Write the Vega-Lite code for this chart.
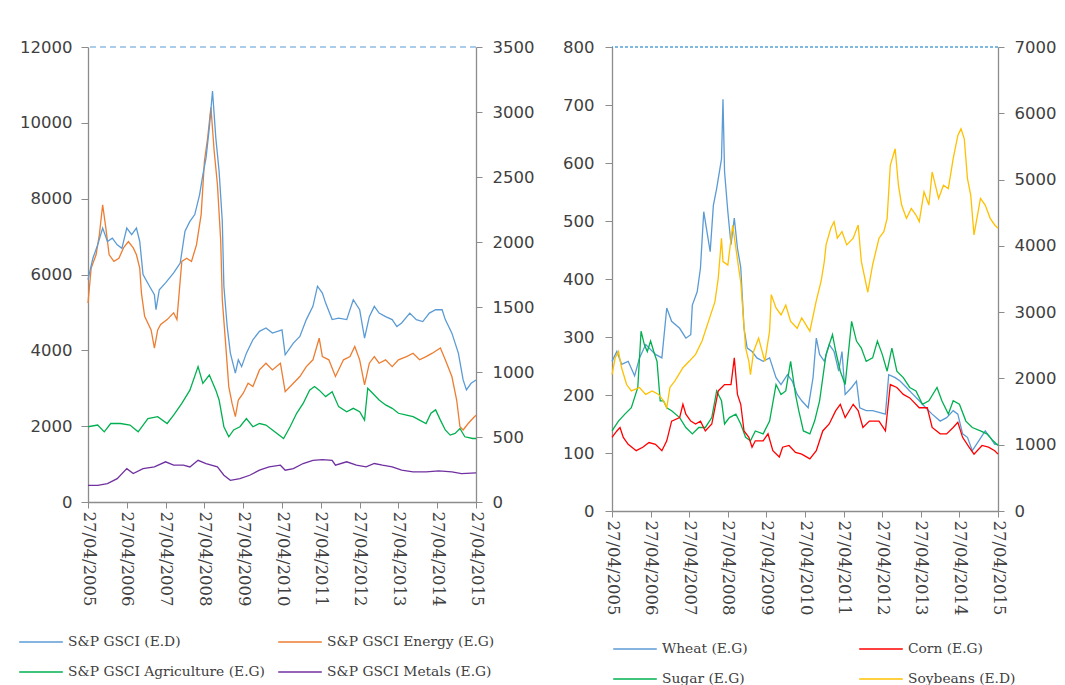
{
"$schema":"https://vega.github.io/schema/vega-lite/v6.json",
"background":"white",
"padding":{"left":18,"top":39,"right":5,"bottom":5},
"spacing":28,
"config":{"view":{"stroke":null},"axis":{"domainColor":"#8c8c8c","tickColor":"#8c8c8c","labelColor":"#404040","grid":false,"title":null,"labelFont":"DejaVu Sans","labelFontSize":16.5,"tickSize":6,"domainWidth":1.3,"labelOverlap":false,"format":"d"},"axisX":{"labelOverlap":false,"tickCount":20}},
"datasets":{
"gsci":[{"d":"2005-04-27","v":1711},{"d":"2005-06-12","v":1875},{"d":"2005-07-27","v":1978},{"d":"2005-09-12","v":2107},{"d":"2005-10-27","v":2004},{"d":"2005-12-12","v":2030},{"d":"2006-01-27","v":1978},{"d":"2006-03-12","v":1951},{"d":"2006-04-27","v":2107},{"d":"2006-06-12","v":2056},{"d":"2006-07-27","v":2107},{"d":"2006-08-27","v":2004},{"d":"2006-09-27","v":1750},{"d":"2006-11-27","v":1660},{"d":"2007-01-12","v":1595},{"d":"2007-01-27","v":1479},{"d":"2007-02-27","v":1633},{"d":"2007-04-27","v":1686},{"d":"2007-07-12","v":1762},{"d":"2007-09-12","v":1838},{"d":"2007-10-27","v":2083},{"d":"2007-12-12","v":2158},{"d":"2008-01-27","v":2211},{"d":"2008-03-12","v":2363},{"d":"2008-04-12","v":2517},{"d":"2008-05-12","v":2647},{"d":"2008-06-12","v":2879},{"d":"2008-07-12","v":3162},{"d":"2008-08-12","v":2801},{"d":"2008-09-12","v":2544},{"d":"2008-10-12","v":2159},{"d":"2008-10-27","v":1660},{"d":"2008-11-27","v":1350},{"d":"2008-12-27","v":1145},{"d":"2009-02-12","v":992},{"d":"2009-03-12","v":1094},{"d":"2009-04-12","v":1041},{"d":"2009-05-27","v":1145},{"d":"2009-07-27","v":1248},{"d":"2009-09-27","v":1313},{"d":"2009-11-27","v":1339},{"d":"2010-01-27","v":1299},{"d":"2010-04-27","v":1324},{"d":"2010-05-27","v":1132},{"d":"2010-08-12","v":1222},{"d":"2010-10-12","v":1273},{"d":"2010-12-12","v":1403},{"d":"2011-02-12","v":1505},{"d":"2011-03-27","v":1660},{"d":"2011-05-12","v":1607},{"d":"2011-06-12","v":1530},{"d":"2011-08-12","v":1403},{"d":"2011-10-12","v":1415},{"d":"2011-12-27","v":1403},{"d":"2012-02-27","v":1556},{"d":"2012-04-27","v":1479},{"d":"2012-06-12","v":1260},{"d":"2012-07-27","v":1426},{"d":"2012-09-12","v":1505},{"d":"2012-10-27","v":1453},{"d":"2012-12-27","v":1426},{"d":"2013-02-27","v":1403},{"d":"2013-04-12","v":1350},{"d":"2013-05-27","v":1377},{"d":"2013-08-12","v":1453},{"d":"2013-10-12","v":1403},{"d":"2013-12-12","v":1388},{"d":"2014-02-12","v":1453},{"d":"2014-04-12","v":1479},{"d":"2014-06-12","v":1479},{"d":"2014-07-12","v":1403},{"d":"2014-09-12","v":1299},{"d":"2014-11-12","v":1145},{"d":"2014-12-27","v":939},{"d":"2015-01-27","v":862},{"d":"2015-03-12","v":913},{"d":"2015-04-27","v":939}],
"energy":[{"d":"2005-04-27","v":5250},{"d":"2005-05-27","v":6170},{"d":"2005-07-12","v":6520},{"d":"2005-08-12","v":7050},{"d":"2005-09-12","v":7840},{"d":"2005-10-12","v":7225},{"d":"2005-11-12","v":6520},{"d":"2005-12-27","v":6345},{"d":"2006-02-12","v":6430},{"d":"2006-03-27","v":6700},{"d":"2006-05-12","v":6870},{"d":"2006-06-27","v":6700},{"d":"2006-07-27","v":6520},{"d":"2006-08-27","v":6170},{"d":"2006-09-12","v":5510},{"d":"2006-10-12","v":4895},{"d":"2006-12-12","v":4540},{"d":"2007-01-12","v":4060},{"d":"2007-02-12","v":4540},{"d":"2007-03-12","v":4680},{"d":"2007-05-12","v":4810},{"d":"2007-07-12","v":4990},{"d":"2007-08-12","v":4810},{"d":"2007-09-27","v":6345},{"d":"2007-11-12","v":6430},{"d":"2007-12-27","v":6345},{"d":"2008-02-12","v":6780},{"d":"2008-03-27","v":7580},{"d":"2008-04-27","v":8990},{"d":"2008-05-27","v":9600},{"d":"2008-06-27","v":10410},{"d":"2008-07-27","v":9270},{"d":"2008-08-27","v":8380},{"d":"2008-09-27","v":6900},{"d":"2008-10-12","v":5335},{"d":"2008-11-12","v":4190},{"d":"2008-12-12","v":3045},{"d":"2009-01-12","v":2600},{"d":"2009-02-12","v":2250},{"d":"2009-03-12","v":2690},{"d":"2009-04-27","v":2870},{"d":"2009-06-12","v":3130},{"d":"2009-07-27","v":3045},{"d":"2009-09-27","v":3484},{"d":"2009-11-27","v":3660},{"d":"2010-01-27","v":3484},{"d":"2010-04-12","v":3660},{"d":"2010-05-27","v":2910},{"d":"2010-08-12","v":3130},{"d":"2010-10-12","v":3310},{"d":"2010-12-12","v":3570},{"d":"2011-02-12","v":3750},{"d":"2011-04-12","v":4320},{"d":"2011-05-12","v":3835},{"d":"2011-07-12","v":3750},{"d":"2011-09-12","v":3310},{"d":"2011-11-27","v":3750},{"d":"2012-01-27","v":3835},{"d":"2012-03-12","v":4100},{"d":"2012-04-27","v":3750},{"d":"2012-06-12","v":3090},{"d":"2012-07-27","v":3660},{"d":"2012-09-12","v":3835},{"d":"2012-10-27","v":3660},{"d":"2012-12-27","v":3750},{"d":"2013-02-27","v":3570},{"d":"2013-04-27","v":3750},{"d":"2013-07-12","v":3835},{"d":"2013-09-12","v":3925},{"d":"2013-11-12","v":3750},{"d":"2014-01-12","v":3835},{"d":"2014-03-12","v":3925},{"d":"2014-05-27","v":4060},{"d":"2014-07-12","v":3750},{"d":"2014-09-12","v":3310},{"d":"2014-10-27","v":2690},{"d":"2014-11-27","v":1985},{"d":"2014-12-27","v":1900},{"d":"2015-02-12","v":2070},{"d":"2015-04-12","v":2250},{"d":"2015-04-27","v":2290}],
"agri":[{"d":"2005-04-27","v":1985},{"d":"2005-07-27","v":2030},{"d":"2005-09-27","v":1850},{"d":"2005-11-27","v":2070},{"d":"2006-02-27","v":2070},{"d":"2006-05-27","v":2030},{"d":"2006-08-12","v":1850},{"d":"2006-11-12","v":2200},{"d":"2007-02-12","v":2250},{"d":"2007-05-12","v":2070},{"d":"2007-07-12","v":2290},{"d":"2007-09-27","v":2600},{"d":"2007-12-12","v":2950},{"d":"2008-02-27","v":3570},{"d":"2008-04-12","v":3130},{"d":"2008-06-12","v":3350},{"d":"2008-08-12","v":2950},{"d":"2008-09-12","v":2690},{"d":"2008-10-27","v":1985},{"d":"2008-12-12","v":1720},{"d":"2009-01-27","v":1900},{"d":"2009-03-27","v":1985},{"d":"2009-05-27","v":2200},{"d":"2009-07-27","v":1985},{"d":"2009-09-27","v":2070},{"d":"2009-11-27","v":2030},{"d":"2010-01-27","v":1900},{"d":"2010-05-12","v":1675},{"d":"2010-07-12","v":1985},{"d":"2010-09-12","v":2340},{"d":"2010-11-12","v":2600},{"d":"2011-01-12","v":2950},{"d":"2011-02-27","v":3045},{"d":"2011-04-12","v":2950},{"d":"2011-06-12","v":2780},{"d":"2011-08-12","v":2910},{"d":"2011-10-12","v":2515},{"d":"2011-12-27","v":2380},{"d":"2012-02-27","v":2470},{"d":"2012-04-27","v":2380},{"d":"2012-06-12","v":2160},{"d":"2012-07-12","v":3000},{"d":"2012-08-27","v":2870},{"d":"2012-10-27","v":2690},{"d":"2012-12-27","v":2560},{"d":"2013-02-27","v":2470},{"d":"2013-04-27","v":2340},{"d":"2013-07-12","v":2290},{"d":"2013-09-12","v":2250},{"d":"2013-11-12","v":2160},{"d":"2014-01-12","v":2070},{"d":"2014-02-27","v":2340},{"d":"2014-04-12","v":2430},{"d":"2014-05-27","v":2160},{"d":"2014-07-12","v":1900},{"d":"2014-08-27","v":1765},{"d":"2014-10-12","v":1810},{"d":"2014-11-27","v":1940},{"d":"2015-01-12","v":1720},{"d":"2015-03-27","v":1675},{"d":"2015-04-27","v":1675}],
"metals":[{"d":"2005-04-27","v":440},{"d":"2005-07-27","v":440},{"d":"2005-10-27","v":485},{"d":"2006-01-27","v":617},{"d":"2006-04-27","v":880},{"d":"2006-06-27","v":750},{"d":"2006-09-27","v":880},{"d":"2007-01-12","v":925},{"d":"2007-04-27","v":1060},{"d":"2007-07-12","v":970},{"d":"2007-10-12","v":970},{"d":"2007-12-12","v":925},{"d":"2008-02-27","v":1100},{"d":"2008-05-12","v":1015},{"d":"2008-08-27","v":925},{"d":"2008-10-27","v":705},{"d":"2008-12-27","v":573},{"d":"2009-03-27","v":617},{"d":"2009-06-27","v":705},{"d":"2009-09-27","v":840},{"d":"2009-12-27","v":925},{"d":"2010-04-12","v":970},{"d":"2010-05-27","v":838},{"d":"2010-08-12","v":880},{"d":"2010-11-12","v":1015},{"d":"2011-02-12","v":1100},{"d":"2011-05-12","v":1120},{"d":"2011-08-12","v":1100},{"d":"2011-09-12","v":970},{"d":"2011-12-27","v":1060},{"d":"2012-03-27","v":970},{"d":"2012-06-27","v":925},{"d":"2012-09-12","v":1015},{"d":"2012-11-27","v":970},{"d":"2013-02-27","v":925},{"d":"2013-05-27","v":838},{"d":"2013-09-12","v":794},{"d":"2014-01-12","v":794},{"d":"2014-05-12","v":820},{"d":"2014-09-12","v":794},{"d":"2014-12-12","v":750},{"d":"2015-04-27","v":770}],
"wheat":[{"d":"2005-04-27","v":258},{"d":"2005-06-12","v":275},{"d":"2005-07-27","v":253},{"d":"2005-09-27","v":258},{"d":"2005-11-27","v":233},{"d":"2006-01-12","v":264},{"d":"2006-03-12","v":287},{"d":"2006-06-12","v":270},{"d":"2006-08-12","v":264},{"d":"2006-09-27","v":350},{"d":"2006-11-12","v":327},{"d":"2007-01-27","v":315},{"d":"2007-03-27","v":298},{"d":"2007-05-12","v":304},{"d":"2007-05-27","v":355},{"d":"2007-07-12","v":378},{"d":"2007-08-12","v":419},{"d":"2007-09-12","v":516},{"d":"2007-10-12","v":482},{"d":"2007-11-12","v":447},{"d":"2007-12-12","v":527},{"d":"2008-01-12","v":556},{"d":"2008-02-27","v":607},{"d":"2008-03-12","v":710},{"d":"2008-03-27","v":585},{"d":"2008-04-27","v":516},{"d":"2008-05-27","v":459},{"d":"2008-06-27","v":505},{"d":"2008-07-27","v":453},{"d":"2008-08-27","v":420},{"d":"2008-09-27","v":315},{"d":"2008-10-27","v":281},{"d":"2008-12-12","v":275},{"d":"2009-01-27","v":264},{"d":"2009-03-27","v":258},{"d":"2009-05-27","v":264},{"d":"2009-07-27","v":230},{"d":"2009-09-12","v":218},{"d":"2009-11-12","v":235},{"d":"2009-12-27","v":224},{"d":"2010-02-12","v":201},{"d":"2010-03-27","v":190},{"d":"2010-05-27","v":178},{"d":"2010-07-12","v":230},{"d":"2010-08-12","v":298},{"d":"2010-09-12","v":270},{"d":"2010-10-27","v":258},{"d":"2010-12-12","v":287},{"d":"2011-01-27","v":275},{"d":"2011-03-12","v":241},{"d":"2011-04-12","v":275},{"d":"2011-05-12","v":201},{"d":"2011-07-12","v":213},{"d":"2011-08-27","v":224},{"d":"2011-09-27","v":178},{"d":"2011-11-27","v":173},{"d":"2012-01-27","v":173},{"d":"2012-03-27","v":170},{"d":"2012-05-27","v":167},{"d":"2012-06-27","v":235},{"d":"2012-08-27","v":230},{"d":"2012-10-12","v":224},{"d":"2012-12-12","v":213},{"d":"2013-02-12","v":201},{"d":"2013-04-12","v":190},{"d":"2013-06-12","v":178},{"d":"2013-08-12","v":167},{"d":"2013-10-27","v":155},{"d":"2013-12-27","v":161},{"d":"2014-02-27","v":173},{"d":"2014-04-12","v":167},{"d":"2014-05-27","v":133},{"d":"2014-07-12","v":127},{"d":"2014-08-27","v":104},{"d":"2014-10-27","v":121},{"d":"2014-12-27","v":138},{"d":"2015-02-12","v":127},{"d":"2015-03-27","v":115},{"d":"2015-04-27","v":115}],
"corn":[{"d":"2005-04-27","v":127},{"d":"2005-06-12","v":138},{"d":"2005-07-12","v":144},{"d":"2005-08-12","v":127},{"d":"2005-09-27","v":115},{"d":"2005-12-12","v":104},{"d":"2006-02-12","v":110},{"d":"2006-04-12","v":118},{"d":"2006-06-12","v":115},{"d":"2006-08-12","v":104},{"d":"2006-09-27","v":121},{"d":"2006-11-12","v":155},{"d":"2007-01-27","v":161},{"d":"2007-02-27","v":184},{"d":"2007-03-27","v":167},{"d":"2007-05-12","v":155},{"d":"2007-06-27","v":150},{"d":"2007-08-12","v":155},{"d":"2007-09-27","v":138},{"d":"2007-11-27","v":150},{"d":"2007-12-27","v":178},{"d":"2008-01-27","v":207},{"d":"2008-03-27","v":218},{"d":"2008-05-27","v":218},{"d":"2008-06-27","v":264},{"d":"2008-07-27","v":201},{"d":"2008-08-27","v":184},{"d":"2008-09-27","v":138},{"d":"2008-11-12","v":127},{"d":"2008-12-12","v":110},{"d":"2009-01-12","v":121},{"d":"2009-03-27","v":121},{"d":"2009-05-12","v":133},{"d":"2009-06-27","v":104},{"d":"2009-08-27","v":93},{"d":"2009-09-27","v":110},{"d":"2009-11-27","v":113},{"d":"2010-01-27","v":101},{"d":"2010-03-27","v":98},{"d":"2010-06-12","v":90},{"d":"2010-08-12","v":104},{"d":"2010-10-12","v":138},{"d":"2010-12-12","v":150},{"d":"2011-02-12","v":173},{"d":"2011-03-27","v":184},{"d":"2011-05-12","v":161},{"d":"2011-07-27","v":184},{"d":"2011-09-12","v":173},{"d":"2011-10-27","v":144},{"d":"2011-12-27","v":155},{"d":"2012-03-27","v":155},{"d":"2012-05-27","v":138},{"d":"2012-07-12","v":218},{"d":"2012-09-12","v":213},{"d":"2012-11-12","v":201},{"d":"2013-01-12","v":195},{"d":"2013-04-12","v":178},{"d":"2013-06-27","v":178},{"d":"2013-08-12","v":144},{"d":"2013-10-27","v":133},{"d":"2013-12-27","v":133},{"d":"2014-02-27","v":144},{"d":"2014-04-12","v":153},{"d":"2014-05-27","v":127},{"d":"2014-07-27","v":110},{"d":"2014-09-12","v":98},{"d":"2014-11-27","v":113},{"d":"2015-01-27","v":110},{"d":"2015-03-27","v":104},{"d":"2015-04-27","v":98}],
"sugar":[{"d":"2005-04-27","v":138},{"d":"2005-06-27","v":155},{"d":"2005-08-27","v":167},{"d":"2005-10-27","v":178},{"d":"2005-12-27","v":213},{"d":"2006-01-27","v":310},{"d":"2006-02-27","v":287},{"d":"2006-03-27","v":275},{"d":"2006-04-27","v":293},{"d":"2006-05-27","v":275},{"d":"2006-06-27","v":258},{"d":"2006-07-27","v":190},{"d":"2006-08-27","v":190},{"d":"2006-09-27","v":178},{"d":"2006-11-12","v":173},{"d":"2007-01-27","v":161},{"d":"2007-03-27","v":144},{"d":"2007-05-27","v":133},{"d":"2007-07-27","v":144},{"d":"2007-09-27","v":144},{"d":"2007-11-27","v":161},{"d":"2008-01-12","v":207},{"d":"2008-02-27","v":190},{"d":"2008-03-27","v":150},{"d":"2008-05-12","v":161},{"d":"2008-07-12","v":167},{"d":"2008-08-27","v":150},{"d":"2008-10-12","v":127},{"d":"2008-11-27","v":121},{"d":"2009-01-12","v":138},{"d":"2009-03-27","v":133},{"d":"2009-05-27","v":155},{"d":"2009-07-27","v":218},{"d":"2009-09-12","v":201},{"d":"2009-10-27","v":207},{"d":"2009-12-12","v":258},{"d":"2010-01-27","v":201},{"d":"2010-02-27","v":173},{"d":"2010-04-12","v":138},{"d":"2010-06-12","v":133},{"d":"2010-07-27","v":155},{"d":"2010-09-12","v":190},{"d":"2010-11-12","v":270},{"d":"2011-01-12","v":304},{"d":"2011-02-12","v":275},{"d":"2011-03-27","v":241},{"d":"2011-05-12","v":218},{"d":"2011-07-12","v":327},{"d":"2011-08-27","v":293},{"d":"2011-10-12","v":281},{"d":"2011-11-27","v":258},{"d":"2012-01-27","v":264},{"d":"2012-03-12","v":293},{"d":"2012-04-27","v":270},{"d":"2012-06-12","v":241},{"d":"2012-07-27","v":281},{"d":"2012-09-12","v":241},{"d":"2012-11-12","v":230},{"d":"2013-01-12","v":213},{"d":"2013-03-12","v":207},{"d":"2013-05-12","v":184},{"d":"2013-07-12","v":190},{"d":"2013-09-27","v":213},{"d":"2013-11-12","v":190},{"d":"2014-01-12","v":167},{"d":"2014-02-27","v":190},{"d":"2014-04-27","v":184},{"d":"2014-06-27","v":155},{"d":"2014-08-27","v":144},{"d":"2014-11-12","v":138},{"d":"2015-01-12","v":133},{"d":"2015-03-12","v":121},{"d":"2015-04-27","v":113}],
"soy":[{"d":"2005-04-27","v":2056},{"d":"2005-05-27","v":2310},{"d":"2005-06-27","v":2406},{"d":"2005-07-27","v":2161},{"d":"2005-09-12","v":1908},{"d":"2005-10-27","v":1811},{"d":"2006-01-12","v":1864},{"d":"2006-03-12","v":1759},{"d":"2006-05-12","v":1811},{"d":"2006-07-12","v":1759},{"d":"2006-08-27","v":1663},{"d":"2006-09-27","v":1558},{"d":"2006-10-27","v":1864},{"d":"2006-12-12","v":1960},{"d":"2007-02-27","v":2161},{"d":"2007-04-27","v":2258},{"d":"2007-06-27","v":2363},{"d":"2007-08-27","v":2564},{"d":"2007-10-27","v":2861},{"d":"2007-12-27","v":3159},{"d":"2008-01-27","v":3509},{"d":"2008-02-27","v":4113},{"d":"2008-03-12","v":3763},{"d":"2008-04-27","v":3710},{"d":"2008-06-12","v":4314},{"d":"2008-07-12","v":3964},{"d":"2008-08-12","v":3614},{"d":"2008-08-27","v":3456},{"d":"2008-09-12","v":3106},{"d":"2008-10-12","v":2459},{"d":"2008-11-12","v":2258},{"d":"2008-11-27","v":2056},{"d":"2008-12-27","v":2406},{"d":"2009-02-12","v":2608},{"d":"2009-04-12","v":2258},{"d":"2009-05-27","v":2713},{"d":"2009-06-12","v":3264},{"d":"2009-07-27","v":3063},{"d":"2009-09-12","v":2958},{"d":"2009-10-27","v":3106},{"d":"2009-12-12","v":2861},{"d":"2010-02-12","v":2756},{"d":"2010-03-27","v":2914},{"d":"2010-06-12","v":2713},{"d":"2010-08-12","v":3173},{"d":"2010-09-27","v":3470},{"d":"2010-10-27","v":3767},{"d":"2010-11-12","v":4015},{"d":"2010-12-27","v":4265},{"d":"2011-01-27","v":4365},{"d":"2011-02-27","v":4115},{"d":"2011-04-12","v":4215},{"d":"2011-05-27","v":4015},{"d":"2011-07-27","v":4115},{"d":"2011-09-12","v":4315},{"d":"2011-10-12","v":3765},{"d":"2011-12-12","v":3300},{"d":"2012-01-27","v":3715},{"d":"2012-03-27","v":4115},{"d":"2012-05-12","v":4215},{"d":"2012-06-12","v":4415},{"d":"2012-07-12","v":5215},{"d":"2012-08-27","v":5465},{"d":"2012-09-27","v":4915},{"d":"2012-10-27","v":4615},{"d":"2012-12-12","v":4415},{"d":"2013-01-27","v":4565},{"d":"2013-03-12","v":4465},{"d":"2013-04-12","v":4365},{"d":"2013-05-27","v":4815},{"d":"2013-07-12","v":4615},{"d":"2013-08-12","v":5115},{"d":"2013-10-12","v":4715},{"d":"2013-11-27","v":4915},{"d":"2014-01-12","v":4865},{"d":"2014-02-27","v":5315},{"d":"2014-04-12","v":5665},{"d":"2014-05-12","v":5765},{"d":"2014-06-12","v":5615},{"d":"2014-07-12","v":5015},{"d":"2014-08-12","v":4765},{"d":"2014-09-12","v":4165},{"d":"2014-11-12","v":4715},{"d":"2014-12-27","v":4615},{"d":"2015-02-12","v":4415},{"d":"2015-03-27","v":4315},{"d":"2015-04-27","v":4265}],
"top1":[{"v":12000}],
"top2":[{"v":800}]
},
"hconcat":[
{
"width":388,"height":455,
"layer":[
{"layer":[
{"data":{"name":"energy"},"mark":{"type":"line","strokeWidth":1.3},"encoding":{"x":{"field":"d","type":"temporal","scale":{"domain":[{"year":2005,"month":4,"date":27},{"year":2015,"month":4,"date":27}]},"axis":{"values":[{"year":2005,"month":4,"date":27},{"year":2006,"month":4,"date":27},{"year":2007,"month":4,"date":27},{"year":2008,"month":4,"date":27},{"year":2009,"month":4,"date":27},{"year":2010,"month":4,"date":27},{"year":2011,"month":4,"date":27},{"year":2012,"month":4,"date":27},{"year":2013,"month":4,"date":27},{"year":2014,"month":4,"date":27},{"year":2015,"month":4,"date":27}],"tickCount":20,"format":"%d/%m/%Y","labelAngle":90,"labelAlign":"left","labelBaseline":"middle","labelFont":"DejaVu Serif","labelFontSize":16.5,"labelPadding":3,"labelFlush":false,"labelOverlap":false,"labelBound":false,"labelSeparation":0}},"y":{"field":"v","type":"quantitative","scale":{"domain":[0,12000]},"axis":{"orient":"left","values":[0,2000,4000,6000,8000,10000,12000],"labelPadding":9,"tickSize":7}},"color":{"datum":"S&P GSCI Energy (E.G)","type":"nominal","scale":{"domain":["S&P GSCI (E.D)","S&P GSCI Energy (E.G)","S&P GSCI Agriculture (E.G)","S&P GSCI Metals (E.G)"],"range":["#5B9BD5","#ED7D31","#00B050","#7030A0"]},"legend":{"title":null,"orient":"none","legendX":-70,"legendY":572,"direction":"horizontal","columns":2,"symbolType":"stroke","symbolSize":1900,"symbolStrokeWidth":1.5,"labelFont":"DejaVu Serif","labelFontSize":13.8,"labelColor":"#404040","labelLimit":400,"columnPadding":10,"rowPadding":-15,"labelOffset":4}}}},
{"data":{"name":"agri"},"mark":{"type":"line","strokeWidth":1.3},"encoding":{"x":{"field":"d","type":"temporal"},"y":{"field":"v","type":"quantitative"},"color":{"datum":"S&P GSCI Agriculture (E.G)","type":"nominal"}}},
{"data":{"name":"metals"},"mark":{"type":"line","strokeWidth":1.3},"encoding":{"x":{"field":"d","type":"temporal"},"y":{"field":"v","type":"quantitative"},"color":{"datum":"S&P GSCI Metals (E.G)","type":"nominal"}}},
{"data":{"name":"top1"},"mark":{"type":"rule","color":"#5B9BD5","strokeDash":[6,4],"strokeWidth":1.2},"encoding":{"y":{"field":"v","type":"quantitative"}}}
]},
{"data":{"name":"gsci"},"mark":{"type":"line","strokeWidth":1.3},"encoding":{"x":{"field":"d","type":"temporal","axis":{"values":[{"year":2005,"month":4,"date":27},{"year":2006,"month":4,"date":27},{"year":2007,"month":4,"date":27},{"year":2008,"month":4,"date":27},{"year":2009,"month":4,"date":27},{"year":2010,"month":4,"date":27},{"year":2011,"month":4,"date":27},{"year":2012,"month":4,"date":27},{"year":2013,"month":4,"date":27},{"year":2014,"month":4,"date":27},{"year":2015,"month":4,"date":27}],"tickCount":20,"format":"%d/%m/%Y","labelAngle":90,"labelAlign":"left","labelBaseline":"middle","labelFont":"DejaVu Serif","labelFontSize":16.5,"labelPadding":3,"labelFlush":false,"labelOverlap":false,"labelBound":false,"labelSeparation":0}},"y":{"field":"v","type":"quantitative","scale":{"domain":[0,3500]},"axis":{"orient":"right","values":[0,500,1000,1500,2000,2500,3000,3500],"labelPadding":10}},"color":{"datum":"S&P GSCI (E.D)","type":"nominal"}}}
],
"resolve":{"scale":{"y":"independent"},"axis":{"y":"independent"}}
},
{
"width":386,"height":464,
"layer":[
{"layer":[
{"data":{"name":"wheat"},"mark":{"type":"line","strokeWidth":1.3},"encoding":{"x":{"field":"d","type":"temporal","scale":{"domain":[{"year":2005,"month":4,"date":27},{"year":2015,"month":4,"date":27}]},"axis":{"values":[{"year":2005,"month":4,"date":27},{"year":2006,"month":4,"date":27},{"year":2007,"month":4,"date":27},{"year":2008,"month":4,"date":27},{"year":2009,"month":4,"date":27},{"year":2010,"month":4,"date":27},{"year":2011,"month":4,"date":27},{"year":2012,"month":4,"date":27},{"year":2013,"month":4,"date":27},{"year":2014,"month":4,"date":27},{"year":2015,"month":4,"date":27}],"tickCount":20,"format":"%d/%m/%Y","labelAngle":90,"labelAlign":"left","labelBaseline":"middle","labelFont":"DejaVu Serif","labelFontSize":16.5,"labelPadding":3,"labelFlush":false,"labelOverlap":false,"labelBound":false,"labelSeparation":0}},"y":{"field":"v","type":"quantitative","scale":{"domain":[0,800]},"axis":{"orient":"left","values":[0,100,200,300,400,500,600,700,800],"labelPadding":11,"tickSize":7}},"color":{"datum":"Wheat (E.G)","type":"nominal","scale":{"domain":["Wheat (E.G)","Corn (E.G)","Sugar (E.G)","Soybeans (E.D)"],"range":["#5B9BD5","#FF0000","#00B050","#FFC000"]},"legend":{"title":null,"orient":"none","legendX":0,"legendY":579,"direction":"horizontal","columns":2,"symbolType":"stroke","symbolSize":1900,"symbolStrokeWidth":1.5,"labelFont":"DejaVu Serif","labelFontSize":13.8,"labelColor":"#404040","labelLimit":400,"columnPadding":108,"rowPadding":-30,"labelOffset":4}}}},
{"data":{"name":"sugar"},"mark":{"type":"line","strokeWidth":1.3},"encoding":{"x":{"field":"d","type":"temporal"},"y":{"field":"v","type":"quantitative"},"color":{"datum":"Sugar (E.G)","type":"nominal"}}},
{"data":{"name":"corn"},"mark":{"type":"line","strokeWidth":1.3},"encoding":{"x":{"field":"d","type":"temporal"},"y":{"field":"v","type":"quantitative"},"color":{"datum":"Corn (E.G)","type":"nominal"}}},
{"data":{"name":"top2"},"mark":{"type":"rule","color":"#0070C0","strokeDash":[3,2],"strokeWidth":1.2},"encoding":{"y":{"field":"v","type":"quantitative"}}}
]},
{"data":{"name":"soy"},"mark":{"type":"line","strokeWidth":1.3},"encoding":{"x":{"field":"d","type":"temporal","axis":{"values":[{"year":2005,"month":4,"date":27},{"year":2006,"month":4,"date":27},{"year":2007,"month":4,"date":27},{"year":2008,"month":4,"date":27},{"year":2009,"month":4,"date":27},{"year":2010,"month":4,"date":27},{"year":2011,"month":4,"date":27},{"year":2012,"month":4,"date":27},{"year":2013,"month":4,"date":27},{"year":2014,"month":4,"date":27},{"year":2015,"month":4,"date":27}],"tickCount":20,"format":"%d/%m/%Y","labelAngle":90,"labelAlign":"left","labelBaseline":"middle","labelFont":"DejaVu Serif","labelFontSize":16.5,"labelPadding":3,"labelFlush":false,"labelOverlap":false,"labelBound":false,"labelSeparation":0}},"y":{"field":"v","type":"quantitative","scale":{"domain":[0,7000]},"axis":{"orient":"right","values":[0,1000,2000,3000,4000,5000,6000,7000],"labelPadding":10}},"color":{"datum":"Soybeans (E.D)","type":"nominal"}}}
],
"resolve":{"scale":{"y":"independent"},"axis":{"y":"independent"}}
}
],
"resolve":{"scale":{"color":"independent"},"legend":{"color":"independent"}}
}
